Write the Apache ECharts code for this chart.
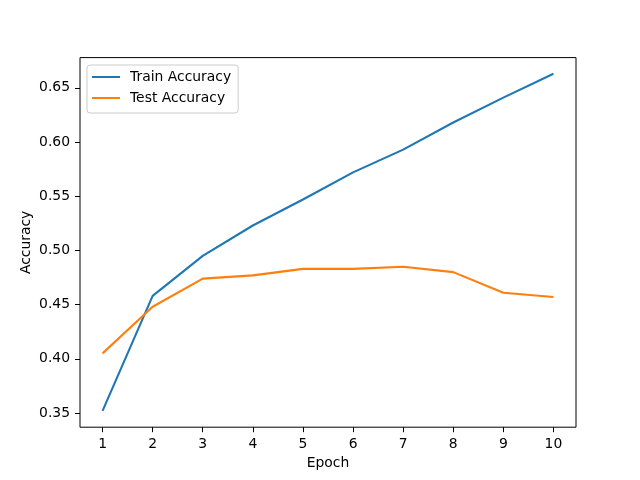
<!DOCTYPE html>
<html>
<head>
<meta charset="utf-8">
<script src="https://cdn.jsdelivr.net/npm/echarts@6/dist/echarts.min.js"></script>
<style>
    html, body { margin: 0; padding: 0; background: #fff; }
    #chart { width: 640px; height: 480px; }
</style>
</head>
<body>
<div id="chart"></div>
<script>
const epochs = [1, 2, 3, 4, 5, 6, 7, 8, 9, 10];
const trainAcc = [0.352, 0.458, 0.495, 0.523, 0.547, 0.572, 0.593, 0.618, 0.641, 0.663];
const testAcc = [0.405, 0.448, 0.474, 0.477, 0.483, 0.483, 0.485, 0.480, 0.461, 0.457];
const yTicks = [0.35, 0.40, 0.45, 0.50, 0.55, 0.60, 0.65];

const font = "DejaVu Sans";

function pairs(vals) {
    return epochs.map((e, i) => [e, vals[i]]);
}

let option = {
    animation: false,
    color: ['#1f77b4', '#ff7f0e'],
    grid: {
        left: 80,
        right: 64,
        top: 57.6,
        bottom: 52.8,
        show: true,
        borderColor: '#000',
        borderWidth: 1,
        backgroundColor: '#fff'
    },
    legend: {
        orient: 'vertical',
        left: 87,
        top: 65,
        icon: 'rect',
        itemWidth: 28,
        itemHeight: 2,
        itemGap: 7,
        padding: [5, 7, 8, 5],
        backgroundColor: '#fff',
        borderColor: '#cccccc',
        borderWidth: 1,
        borderRadius: 3,
        textStyle: { fontFamily: font, fontSize: 13.9, color: '#000', padding: [0, 0, 0, 5] },
        data: ['Train Accuracy', 'Test Accuracy']
    },
    xAxis: {
        type: 'value',
        min: 0.55,
        max: 10.45,
        name: 'Epoch',
        nameLocation: 'middle',
        nameGap: 29,
        nameTextStyle: { fontFamily: font, fontSize: 13.9, color: '#000' },
        splitLine: { show: false },
        axisLine: { show: false },
        axisTick: { show: true, length: 5, inside: false, customValues: epochs, lineStyle: { color: '#000' } },
        axisLabel: { customValues: epochs, margin: 10, fontFamily: font, fontSize: 13.9, color: '#000' }
    },
    yAxis: {
        type: 'value',
        min: 0.3369,
        max: 0.6779,
        name: 'Accuracy',
        nameLocation: 'middle',
        nameGap: 47,
        nameMoveOverlap: false,
        nameTextStyle: { fontFamily: font, fontSize: 13.9, color: '#000' },
        splitLine: { show: false },
        axisLine: { show: false },
        axisTick: { show: true, length: 5, inside: false, customValues: yTicks, lineStyle: { color: '#000' } },
        axisLabel: {
            customValues: yTicks, margin: 10, fontFamily: font, fontSize: 13.9, color: '#000',
            formatter: v => v.toFixed(2)
        }
    },
    series: [
        {
            name: 'Train Accuracy',
            type: 'line',
            data: pairs(trainAcc),
            symbol: 'none',
            lineStyle: { width: 2.1 }
        },
        {
            name: 'Test Accuracy',
            type: 'line',
            data: pairs(testAcc),
            symbol: 'none',
            lineStyle: { width: 2.1 }
        }
    ]
};

let chart = echarts.init(document.getElementById('chart'));
chart.setOption(option);
</script>
</body>
</html>
